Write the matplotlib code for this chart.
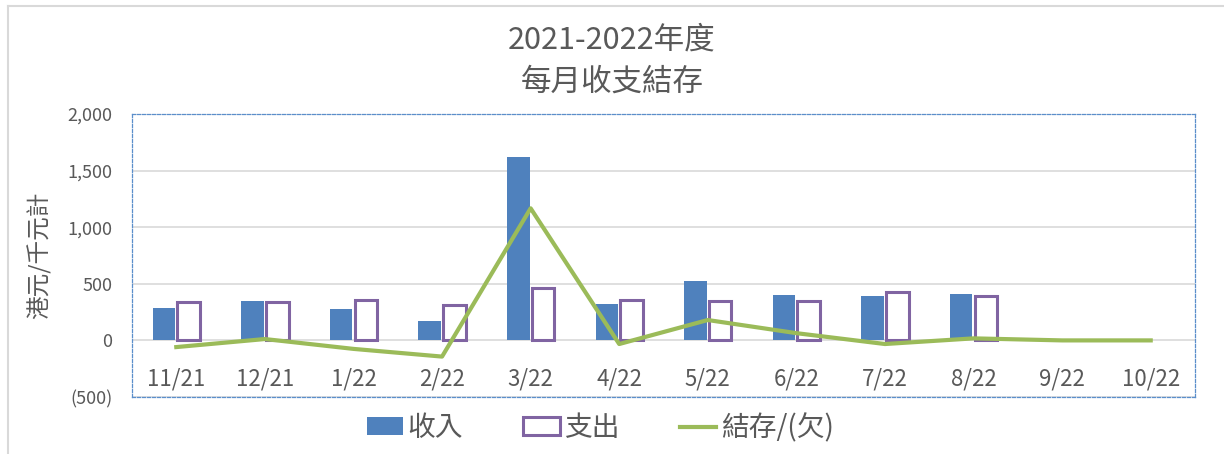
import matplotlib
matplotlib.use("Agg")
import matplotlib.pyplot as plt
import matplotlib.ticker as ticker
from matplotlib.lines import Line2D
import numpy as np

plt.rcParams['font.family'] = ['Noto Sans CJK TC', 'DejaVu Sans']

# data (HK$ thousands)
months = ['11/21', '12/21', '1/22', '2/22', '3/22', '4/22',
          '5/22', '6/22', '7/22', '8/22', '9/22', '10/22']
income = [282, 344, 276, 171, 1623, 318, 526, 403, 388, 408]
expense = [341, 338, 356, 315, 459, 353, 350, 344, 426, 392]
balance = [-59, 12, -75, -143, 1167, -32, 180, 64, -32, 18, 0, 0]

title = '2021-2022年度\n每月收支結存'
ylabel = '港元/千元計'
labels = ['收入', '支出', '結存/(欠)']

grey = '#595959'
blue = '#4F81BD'
purple = '#8064A2'
green = '#9BBB59'

fig = plt.figure(figsize=(12.24, 4.54), dpi=100)
ax = fig.add_axes([132/1224, 1 - 397/454, 1063/1224, 283/454])

x_all = np.arange(len(months))
x_bar = np.arange(len(income))
w = 0.255
off = 0.14

b1 = ax.bar(x_bar - off, income, width=w, color=blue, zorder=2, label=labels[0])
b2 = ax.bar(x_bar + off, expense, width=w, facecolor='white', edgecolor=purple,
            linewidth=2.2, zorder=3, label=labels[1])
l1, = ax.plot(x_all, balance, color=green, linewidth=3, zorder=4, label=labels[2])

ax.set_xlim(-0.5, len(months) - 0.5)
ax.set_ylim(-500, 2000)
ax.yaxis.set_major_locator(ticker.MultipleLocator(500))

def fmt(v, pos):
    if v < 0:
        return '({:,.0f})'.format(-v)
    return '{:,.0f}'.format(v)

ax.yaxis.set_major_formatter(ticker.FuncFormatter(fmt))
ax.set_xticks(x_all)
ax.set_xticklabels(months)

ax.grid(axis='y', color='#D9D9D9', linewidth=1.2, zorder=0)
ax.set_axisbelow(True)

ax.tick_params(axis='x', length=0, labelsize=16, labelcolor=grey, pad=-21)
ax.tick_params(axis='y', length=0, labelsize=13, labelcolor=grey, pad=14)

for s in ax.spines.values():
    s.set_linestyle((0, (2.5, 1.5)))
    s.set_color('#5B8FCB')
    s.set_linewidth(0.9)

fig.text(0.5, 1 - 61/454, title, ha='center', va='center', fontsize=22,
         color=grey, linespacing=1.5)
fig.text(40/1224, 1 - 255/454, ylabel, rotation=90, ha='center', va='center',
         fontsize=17, color=grey)

fig.legend(handles=[b1, b2, l1], labels=labels, loc='center',
           bbox_to_anchor=(600/1224, 1 - 428/454), ncol=3, frameon=False,
           fontsize=20, labelcolor=grey, handlelength=1.3, handletextpad=0.15,
           columnspacing=2.2, handleheight=0.6)

# light chart-area border at top and left
fig.add_artist(Line2D([8/1224, 1], [1 - 6/454, 1 - 6/454], color='#D9D9D9', linewidth=1.5))
fig.add_artist(Line2D([8/1224, 8/1224], [0, 1 - 6/454], color='#D9D9D9', linewidth=1.5))

fig.savefig('out.png', dpi=100)
